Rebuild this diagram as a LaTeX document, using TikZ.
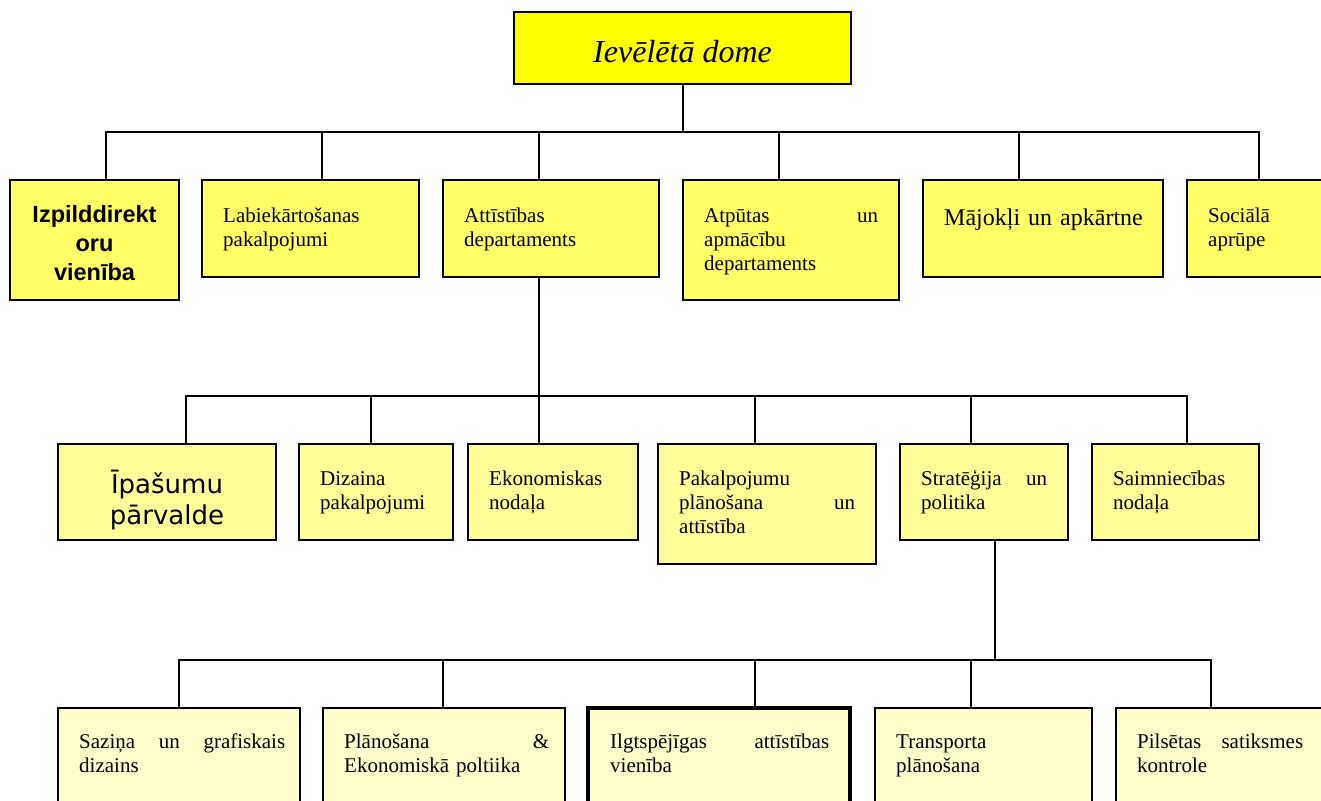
\documentclass[tikz,border=0pt]{standalone}
\usepackage{fontspec}
\setmainfont{Liberation Serif}
\newfontfamily\arialfont{Liberation Sans}
\newfontfamily\verdfont{DejaVu Sans}
\definecolor{c0}{HTML}{FFFF00}
\definecolor{c1}{HTML}{FFFF66}
\definecolor{c2}{HTML}{FFFF99}
\definecolor{c3}{HTML}{FFFFCC}
\begin{document}
\begin{tikzpicture}[x=1pt,y=-1pt,
  box/.style={draw=black, line width=1.6pt, inner sep=0pt, rectangle},
  conn/.style={draw=black, line width=1.5pt, line cap=rect},
  txt/.style={inner sep=0pt, anchor=base west, align=left, text width=180pt,
              font=\fontsize{21}{24}\selectfont},
]
\useasboundingbox (0,0) rectangle (1321,800);
\fill[white] (0,0) rectangle (1321,800);
\clip (0,0) rectangle (1321,800);

% ---- boxes ----
\node[box, fill=c0, minimum width=337pt, minimum height=72pt] (top) at (682.5,48) {};
% row 1
\node[box, fill=c1, minimum width=169pt, minimum height=120pt] (izp) at (94.5,240) {};
\node[box, fill=c1, minimum width=217pt, minimum height=97pt] (lab) at (310.5,228.5) {};
\node[box, fill=c1, minimum width=216pt, minimum height=97pt] (att) at (551,228.5) {};
\node[box, fill=c1, minimum width=216pt, minimum height=120pt] (atp) at (791,240) {};
\node[box, fill=c1, minimum width=240pt, minimum height=97pt] (maj) at (1043,228.5) {};
\node[box, fill=c1, minimum width=217pt, minimum height=97pt] (soc) at (1295.5,228.5) {};
% row 2
\node[box, fill=c2, minimum width=218pt, minimum height=96pt] (ipa) at (167,492) {};
\node[box, fill=c2, minimum width=154pt, minimum height=96pt] (diz) at (376,492) {};
\node[box, fill=c2, minimum width=170pt, minimum height=96pt] (eko) at (553,492) {};
\node[box, fill=c2, minimum width=218pt, minimum height=120pt] (pak) at (767,504) {};
\node[box, fill=c2, minimum width=168pt, minimum height=96pt] (str) at (984,492) {};
\node[box, fill=c2, minimum width=167pt, minimum height=96pt] (sai) at (1175.5,492) {};
% row 3
\node[box, fill=c3, minimum width=242pt, minimum height=132pt] (saz) at (179,774) {};
\node[box, fill=c3, minimum width=242pt, minimum height=132pt] (pla) at (444,774) {};
\node[box, fill=c3, line width=4pt, minimum width=262pt, minimum height=132pt] (ilg) at (719,774) {};
\node[box, fill=c3, minimum width=217pt, minimum height=132pt] (tra) at (983.5,774) {};
\node[box, fill=c3, minimum width=224pt, minimum height=132pt] (pil) at (1228,774) {};

% ---- connectors ----
\coordinate (b1L) at (106,132);
\coordinate (b1R) at (1259,132);
\coordinate (v1) at (683,132);
\draw[conn] (v1 |- top.south) -- (v1);
\draw[conn] (b1L) -- (b1R);
\foreach \x/\n in {106/izp,322/lab,539/att,779/atp,1019/maj,1259/soc}{
  \coordinate (tmp) at (\x,132);
  \draw[conn] (tmp) -- (tmp |- \n.north);
}
\coordinate (b2L) at (186,396);
\coordinate (b2R) at (1187,396);
\coordinate (v2) at (539,396);
\draw[conn] (v2 |- att.south) -- (v2);
\draw[conn] (b2L) -- (b2R);
\foreach \x/\n in {186/ipa,371/diz,539/eko,755/pak,971/str,1187/sai}{
  \coordinate (tmp) at (\x,396);
  \draw[conn] (tmp) -- (tmp |- \n.north);
}
\coordinate (b3L) at (179,660);
\coordinate (b3R) at (1211,660);
\coordinate (v3) at (995,660);
\draw[conn] (v3 |- str.south) -- (v3);
\draw[conn] (b3L) -- (b3R);
\foreach \x/\n in {179/saz,443/pla,755/ilg,971/tra,1211/pil}{
  \coordinate (tmp) at (\x,660);
  \draw[conn] (tmp) -- (tmp |- \n.north);
}

% ---- texts ----
\node[anchor=base, inner sep=0pt, font=\fontsize{32}{36}\selectfont\itshape] (ttop) at (682.5,63) {Ievēlētā dome};
\node[anchor=base, inner sep=0pt, text width=169pt, align=center,
      font=\arialfont\bfseries\fontsize{23.5}{29}\selectfont] (tizp) at (94.5,222) {Izpilddirekt\\oru\\vienība};
\node[txt] (tlab) at (223,222) {Labiekārtošanas\\pakalpojumi};
\node[txt] (tatt) at (464,222) {Attīstības\\departaments};
\node[txt, text width=174pt] (tatp) at (704,222) {Atpūtas\hfill un\\apmācību\\departaments};
\node[txt, text width=220pt, font=\fontsize{24}{28}\selectfont] (tmaj) at (944,225) {Mājokļi un apkārtne};
\node[txt] (tsoc) at (1208,222) {Sociālā\\aprūpe};

\node[txt, anchor=base, text width=218pt, align=center,
      font=\verdfont\fontsize{26}{31}\selectfont] (tipa) at (167,493) {Īpašumu\\pārvalde};
\node[txt] (tdiz) at (320,485) {Dizaina\\pakalpojumi};
\node[txt] (teko) at (489,485) {Ekonomiskas\\nodaļa};
\node[txt, text width=176pt] (tpak) at (679,485) {Pakalpojumu\\plānošana\hfill un\\attīstība};
\node[txt, text width=126pt] (tstr) at (921,485) {Stratēģija\hfill un\\politika};
\node[txt] (tsai) at (1113,485) {Saimniecības\\nodaļa};

\node[txt, text width=206pt] (tsaz) at (79,748) {Saziņa\hfill un\hfill grafiskais\\dizains};
\node[txt, text width=205pt] (tpla) at (344,748) {Plānošana\hfill \&\\Ekonomiskā poltiika};
\node[txt, text width=219pt] (tilg) at (610,748) {Ilgtspējīgas\hfill attīstības\\vienība};
\node[txt] (ttra) at (896,748) {Transporta\\plānošana};
\node[txt, text width=166pt] (tpil) at (1137,748) {Pilsētas\hfill satiksmes\\kontrole};
\end{tikzpicture}
\end{document}
